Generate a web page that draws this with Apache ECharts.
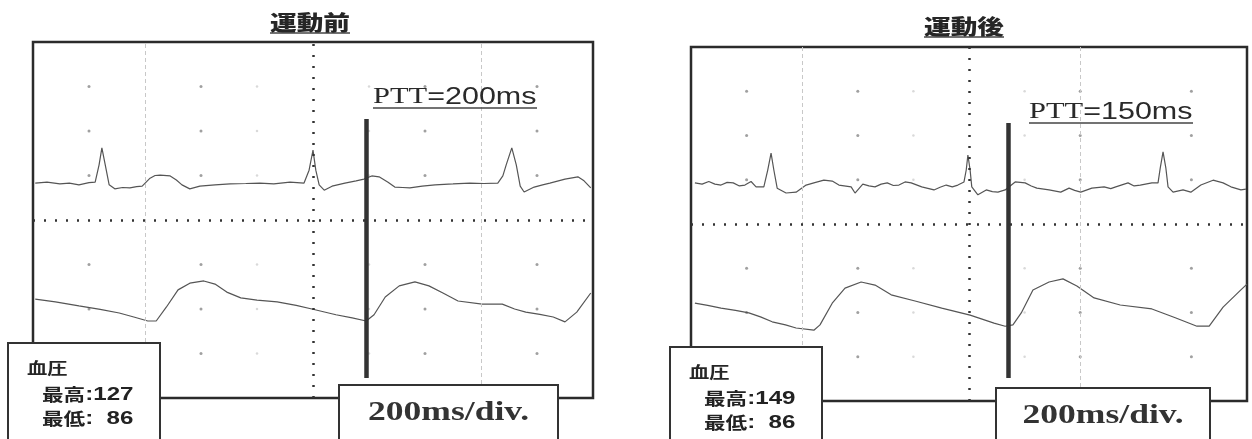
<!DOCTYPE html>
<html>
<head>
<meta charset="utf-8">
<style>
  html, body { margin: 0; padding: 0; background: #fff; }
  #chart { width: 1252px; height: 439px; }
</style>
<script src="https://cdn.jsdelivr.net/npm/echarts@6/dist/echarts.min.js"></script>
</head>
<body>
<div id="chart"></div>
<script>
// panel texts
const titles = ['運動前', '運動後']
const pttValues = ['=200ms', '=150ms']
const bpHigh = ['127', '149']
const bpLow = ['86', '86']
const sweepLabel = '200ms/div.'

// x in ms (0..1000, 200ms per big div), y in vertical divs (0..8)
const beforeEcg = [
  [4, 4.83], [25, 4.85], [48, 4.81], [65, 4.83], [82, 4.79], [100, 4.84], [111, 4.85], [118, 5.24], [123, 5.62],
  [129, 5.24], [136, 4.79], [146, 4.70], [160, 4.73], [173, 4.72], [185, 4.75], [195, 4.76], [209, 4.94],
  [218, 5.0], [227, 5.01], [245, 4.99], [256, 4.9], [266, 4.79], [280, 4.70], [298, 4.76], [325, 4.79],
  [352, 4.81], [380, 4.82], [405, 4.83], [430, 4.81], [459, 4.85], [484, 4.83], [493, 5.12], [500, 5.57],
  [505, 5.12], [511, 4.79], [520, 4.67], [534, 4.76], [557, 4.83], [577, 4.88], [591, 4.92], [605, 4.99],
  [618, 4.97], [634, 4.85], [646, 4.74], [660, 4.73], [673, 4.72], [695, 4.76], [718, 4.79], [750, 4.81],
  [780, 4.83], [805, 4.82], [830, 4.83], [839, 4.99], [845, 5.24], [855, 5.62], [863, 5.24], [870, 4.76],
  [877, 4.63], [895, 4.74], [910, 4.79], [923, 4.83], [950, 4.92], [973, 4.97], [984, 4.88], [996, 4.72]
]
const beforePulse = [
  [4, 2.22], [40, 2.16], [82, 2.07], [120, 1.99], [154, 1.91], [180, 1.82], [205, 1.73], [220, 1.73],
  [238, 2.04], [259, 2.43], [280, 2.58], [305, 2.63], [325, 2.56], [346, 2.38], [371, 2.25], [400, 2.2],
  [436, 2.16], [470, 2.08], [498, 2.00], [541, 1.87], [570, 1.8], [595, 1.73], [609, 1.87], [629, 2.27],
  [654, 2.52], [682, 2.61], [707, 2.52], [732, 2.36], [759, 2.18], [802, 2.11], [838, 2.11], [860, 2.0],
  [880, 1.93], [905, 1.88], [929, 1.82], [950, 1.71], [971, 1.93], [996, 2.36]
]
const afterEcg = [
  [7, 4.93], [20, 4.9], [32, 4.96], [43, 4.9], [54, 4.88], [65, 4.94], [76, 4.93], [87, 4.86], [97, 4.88],
  [108, 4.96], [117, 4.84], [131, 4.84], [138, 5.22], [144, 5.60], [149, 5.22], [155, 4.81], [171, 4.70],
  [189, 4.72], [207, 4.88], [221, 4.93], [239, 4.99], [254, 4.97], [266, 4.88], [288, 4.84], [295, 4.70],
  [309, 4.90], [320, 4.86], [331, 4.84], [342, 4.9], [353, 4.93], [364, 4.87], [374, 4.88], [385, 4.95],
  [396, 4.93], [415, 4.84], [437, 4.77], [448, 4.83], [459, 4.88], [470, 4.84], [480, 4.88], [491, 4.95],
  [495, 5.22], [498, 5.56], [502, 5.22], [505, 4.84], [516, 4.66], [531, 4.77], [542, 4.73], [552, 4.72],
  [565, 4.77], [583, 4.95], [601, 4.93], [612, 4.86], [622, 4.81], [644, 4.77], [665, 4.72], [680, 4.81],
  [690, 4.76], [701, 4.72], [721, 4.81], [743, 4.84], [755, 4.8], [764, 4.84], [786, 4.93], [797, 4.86],
  [808, 4.88], [829, 4.93], [840, 4.93], [844, 5.27], [849, 5.63], [854, 5.27], [858, 4.84], [867, 4.72],
  [885, 4.77], [899, 4.72], [917, 4.88], [939, 4.99], [957, 4.93], [971, 4.84], [989, 4.77], [998, 4.79]
]
const afterPulse = [
  [7, 2.21], [30, 2.16], [54, 2.10], [80, 2.05], [104, 1.99], [125, 1.9], [146, 1.79], [170, 1.72],
  [189, 1.65], [221, 1.60], [232, 1.72], [254, 2.21], [277, 2.55], [306, 2.69], [331, 2.62], [360, 2.40],
  [403, 2.26], [451, 2.10], [502, 1.94], [545, 1.76], [565, 1.69], [579, 1.72], [594, 1.99], [615, 2.51],
  [644, 2.69], [669, 2.76], [694, 2.60], [725, 2.33], [772, 2.17], [829, 2.08], [871, 1.88], [910, 1.69],
  [932, 1.69], [957, 2.12], [989, 2.51], [1000, 2.64]
]

// PTT cursor: [time ms, from div, to div]
const beforeCursor = [595, 0.45, 6.27]
const afterCursor = [570, 0.52, 6.28]

// screen graticule
const dotCols = [100, 300, 700, 900]
const faintCols = [400, 600]
const dotRows = [1, 2, 3, 5, 6, 7]
const beforeDashCols = [200, 800]
const afterDashCols = [200, 700]

const SX = 1.27 // the scan is stretched sideways
const traceColor = '#555'

function dotGrid(cols, rows) {
  const pts = []
  cols.forEach((x) => rows.forEach((y) => pts.push([x, y])))
  return pts
}

function panelSeries(i, ecg, pulse, dashCols, cursor) {
  const dotted = { color: '#333', type: [2, 9], width: 2.5 }
  return [
    {
      type: 'scatter', xAxisIndex: i, yAxisIndex: i, silent: true, z: 1,
      data: dotGrid(dotCols, dotRows), symbolSize: 3, itemStyle: { color: '#888' }
    },
    {
      type: 'scatter', xAxisIndex: i, yAxisIndex: i, silent: true, z: 1,
      data: dotGrid(faintCols, dotRows), symbolSize: 2.5, itemStyle: { color: '#cfcfcf' }
    },
    {
      type: 'line', xAxisIndex: i, yAxisIndex: i, data: ecg, showSymbol: false, silent: true, z: 3,
      lineStyle: { color: traceColor, width: 1.2 }
    },
    {
      type: 'line', xAxisIndex: i, yAxisIndex: i, data: pulse, showSymbol: false, silent: true, z: 3,
      lineStyle: { color: traceColor, width: 1.2 },
      markLine: {
        silent: true, symbol: ['none', 'none'], label: { show: false }, animation: false,
        data: [
          ...dashCols.map((x) => ({ xAxis: x, lineStyle: { color: '#c8c8c8', type: [4, 3], width: 1 } })),
          { xAxis: 500, lineStyle: dotted },
          { yAxis: 4, lineStyle: dotted },
          [
            { coord: [cursor[0], cursor[1]], lineStyle: { color: '#333', type: 'solid', width: 4.5 } },
            { coord: [cursor[0], cursor[2]] }
          ]
        ]
      }
    }
  ]
}

function stretchedText(x, y, text, font, align, fill) {
  return {
    type: 'text', x: x, y: y, scaleX: SX, z: 20,
    style: { text: text, font: font, fill: fill || '#262626', align: align, verticalAlign: 'middle' }
  }
}

function underline(x1, x2, y) {
  return { type: 'line', z: 20, shape: { x1: x1, y1: y, x2: x2, y2: y }, style: { stroke: '#444', lineWidth: 1.5 } }
}

function bpLine(x, y, name, value) {
  return {
    type: 'text', x: x, y: y, scaleX: SX, z: 20,
    style: {
      text: '{c|' + name + '}{n|' + value + '}', verticalAlign: 'middle', align: 'left',
      rich: {
        c: { font: 'bold 17px "Noto Sans CJK JP"', fill: '#222' },
        n: { font: 'bold 19px "Liberation Sans"', fill: '#222' }
      }
    }
  }
}

function panelGraphics(p) {
  return [
    // title
    stretchedText(p.titleX, p.titleY, p.title, '900 21px "Noto Sans CJK JP"', 'center'),
    underline(p.titleX - 40, p.titleX + 40, p.titleY + 11),
    // PTT label
    {
      type: 'text', x: p.pttX, y: p.pttY, scaleX: SX, z: 20,
      style: {
        text: '{a|PTT}{b|' + p.ptt + '}', fill: '#2a2a2a', align: 'left', verticalAlign: 'middle',
        rich: {
          a: { font: '24px "Liberation Serif"', fill: '#2a2a2a' },
          b: { font: '24px "Liberation Sans"', fill: '#2a2a2a' }
        }
      }
    },
    underline(p.pttX, p.pttX + 164, p.pttY + 11),
    // sweep box
    {
      type: 'rect', z: 18, shape: { x: p.boxX, y: p.boxY, width: p.boxW, height: 60 },
      style: { fill: '#fff', stroke: '#333', lineWidth: 2 }
    },
    stretchedText(p.boxX + p.boxW / 2, p.boxY + 28, sweepLabel, 'bold 28px "Liberation Serif"', 'center', '#333'),
    // blood pressure box
    {
      type: 'rect', z: 18, shape: { x: p.bpX, y: p.bpY, width: 152, height: 110 },
      style: { fill: '#fff', stroke: '#333', lineWidth: 2 }
    },
    stretchedText(p.bpX + 19, p.bpY + 25, '血圧', 'bold 16px "Noto Sans CJK JP"', 'left'),
    bpLine(p.bpX + 34, p.bpY + 52, '最高', ':' + p.high),
    bpLine(p.bpX + 34, p.bpY + 76, '最低', ':  ' + p.low)
  ]
}

const chart = echarts.init(document.getElementById('chart'), null, { renderer: 'canvas' })

const gridStyle = { show: true, borderColor: '#2b2b2b', borderWidth: 2.5, backgroundColor: 'transparent' }
const axisOff = { show: false, splitLine: { show: false } }

chart.setOption({
  animation: false,
  backgroundColor: '#fff',
  grid: [
    Object.assign({ left: 33, top: 42, width: 560, height: 356 }, gridStyle),
    Object.assign({ left: 691, top: 47, width: 556, height: 354 }, gridStyle)
  ],
  xAxis: [0, 1].map((i) => Object.assign({ type: 'value', gridIndex: i, min: 0, max: 1000 }, axisOff)),
  yAxis: [0, 1].map((i) => Object.assign({ type: 'value', gridIndex: i, min: 0, max: 8 }, axisOff)),
  series: [
    ...panelSeries(0, beforeEcg, beforePulse, beforeDashCols, beforeCursor),
    ...panelSeries(1, afterEcg, afterPulse, afterDashCols, afterCursor)
  ],
  graphic: [
    ...panelGraphics({
      title: titles[0], titleX: 310, titleY: 22, ptt: pttValues[0], pttX: 373, pttY: 97,
      boxX: 339, boxY: 385, boxW: 219, bpX: 8, bpY: 343, high: bpHigh[0], low: bpLow[0]
    }),
    ...panelGraphics({
      title: titles[1], titleX: 964, titleY: 26, ptt: pttValues[1], pttX: 1029, pttY: 112,
      boxX: 996, boxY: 388, boxW: 214, bpX: 670, bpY: 347, high: bpHigh[1], low: bpLow[1]
    })
  ]
})

window.addEventListener('resize', () => chart.resize())
</script>
</body>
</html>
